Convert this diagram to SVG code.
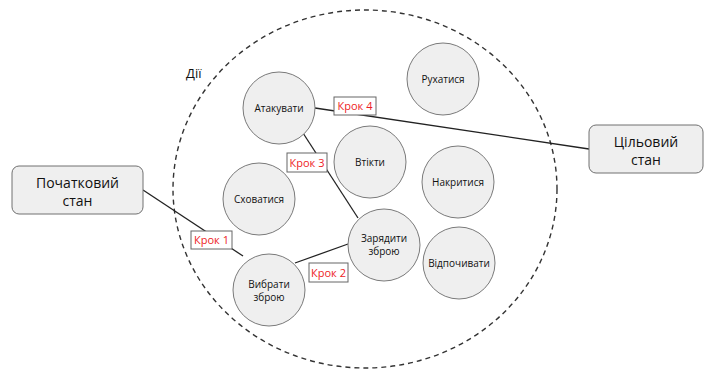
<svg xmlns="http://www.w3.org/2000/svg" width="712" height="369" viewBox="0 0 712 369">
<style>
.bg{fill:#ffffff}
.act circle{fill:#efefef;stroke:#7a7a7a;stroke-width:1}
.act text{font-family:"Open Sans","Liberation Sans",sans-serif;font-size:10px;fill:#111;text-anchor:middle}
.state rect{fill:#efefef;stroke:#707070;stroke-width:1}
.state text{font-family:"Open Sans","Liberation Sans",sans-serif;font-size:14px;fill:#111;text-anchor:middle}
.edge{stroke:#222;stroke-width:1.3;fill:none}
.step rect{fill:#ffffff;stroke:#666;stroke-width:1}
.step text{font-family:"Open Sans","Liberation Sans",sans-serif;font-size:11px;fill:#ee1c25;text-anchor:middle}
.zone{fill:none;stroke:#333;stroke-width:1.4;stroke-dasharray:5 4}
.title{font-family:"Open Sans","Liberation Sans",sans-serif;font-size:13px;fill:#111}
</style>
<rect class="bg" x="0" y="0" width="712" height="369"/>
<g id="zone">
<ellipse class="zone" cx="365" cy="189" rx="192" ry="179"/>
<text class="title" x="186" y="78">Дії</text>
</g>
<g id="connectors">
<line class="edge" x1="143" y1="190" x2="243" y2="256"/>
<line class="edge" x1="295" y1="263" x2="348" y2="244"/>
<line class="edge" x1="358" y1="218" x2="303" y2="133"/>
<line class="edge" x1="315" y1="108" x2="589" y2="149"/>
</g>
<g id="n-attack" class="act"><circle cx="279" cy="108" r="36"/><text x="279" y="112">Атакувати</text></g>
<g id="n-flee" class="act"><circle cx="370" cy="162" r="36"/><text x="370" y="166">Втікти</text></g>
<g id="n-hide" class="act"><circle cx="259" cy="199" r="36"/><text x="259" y="203">Сховатися</text></g>
<g id="n-reload" class="act"><circle cx="384" cy="245" r="36"/><text x="384" y="242">Зарядити</text><text x="384" y="255">зброю</text></g>
<g id="n-choose" class="act"><circle cx="269" cy="290" r="36"/><text x="269" y="288">Вибрати</text><text x="269" y="301">зброю</text></g>
<g id="n-move" class="act"><circle cx="443" cy="79" r="36"/><text x="443" y="83">Рухатися</text></g>
<g id="n-cover" class="act"><circle cx="458" cy="182" r="36"/><text x="458" y="186">Накритися</text></g>
<g id="n-rest" class="act"><circle cx="459" cy="263" r="36"/><text x="459" y="267">Відпочивати</text></g>
<g id="n-start" class="state"><rect x="12" y="166" width="131" height="48" rx="7"/><text x="77.5" y="188">Початковий</text><text x="77.5" y="206">стан</text></g>
<g id="n-goal" class="state"><rect x="589" y="125" width="114" height="48" rx="7"/><text x="646" y="147">Цільовий</text><text x="646" y="165">стан</text></g>
<g id="step1" class="step"><rect x="191" y="231" width="41" height="18"/><text x="211.5" y="244">Крок 1</text></g>
<g id="step2" class="step"><rect x="309" y="263" width="39" height="19"/><text x="328.5" y="276.5">Крок 2</text></g>
<g id="step3" class="step"><rect x="287" y="153" width="40" height="19"/><text x="307" y="166.5">Крок 3</text></g>
<g id="step4" class="step"><rect x="334" y="97" width="42" height="18"/><text x="355" y="110">Крок 4</text></g>
</svg>
